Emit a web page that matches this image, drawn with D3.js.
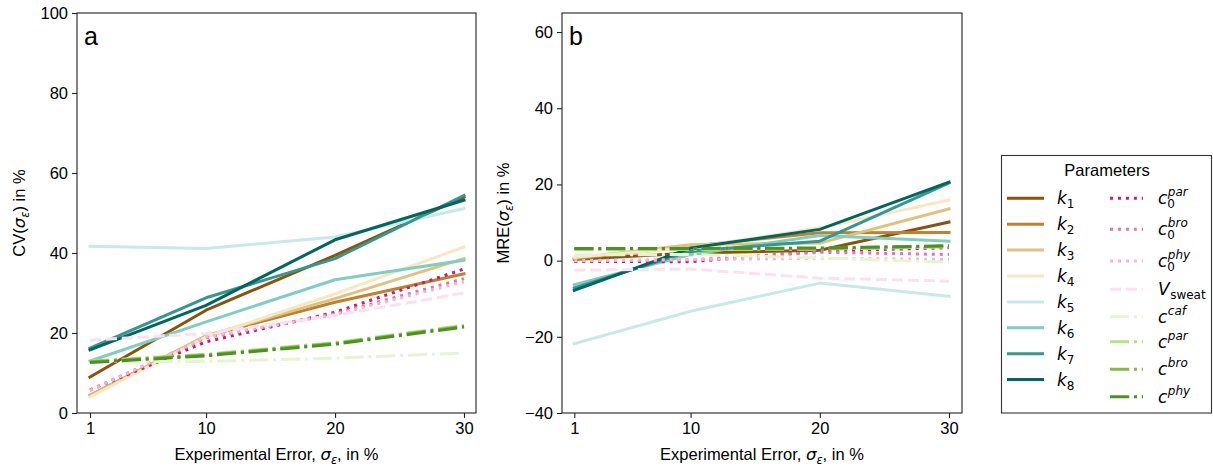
<!DOCTYPE html>
<html>
<head>
<meta charset="utf-8">
<script src="https://cdn.jsdelivr.net/npm/d3@7"></script>
<style>
  html, body { margin: 0; padding: 0; background: #fff; }
  svg { display: block; }
  text { font-family: "Liberation Sans", Arial, sans-serif; fill: #000; }
</style>
</head>
<body>
<svg id="chart" width="1213" height="470"></svg>
<script>
// ---------------- data ----------------
const errorLevels = [1, 10, 20, 30];
const xTicks = [1, 10, 20, 30];
const cvTicks = [0, 20, 40, 60, 80, 100];
const mreTicks = [-40, -20, 0, 20, 40, 60];

const paramKeys = ["k1","k2","k3","k4","k5","k6","k7","k8",
                   "c0par","c0bro","c0phy","Vsweat","ccaf","cpar","cbro","cphy"];

// CV (panel a)
const cvK1 = [9.0, 25.7, 39.4, 54.0];
const cvK2 = [4.4, 19.2, 27.7, 34.8];
const cvK3 = [4.3, 19.3, 28.6, 38.6];
const cvK4 = [4.0, 19.0, 29.8, 41.5];
const cvK5 = [41.7, 41.1, 44.0, 51.1];
const cvK6 = [13.0, 22.8, 33.3, 38.2];
const cvK7 = [16.2, 28.8, 38.6, 54.4];
const cvK8 = [15.8, 26.9, 43.3, 53.2];
const cvC0par = [5.7, 17.8, 25.2, 36.0];
const cvC0bro = [5.8, 18.8, 24.8, 33.6];
const cvC0phy = [5.6, 19.0, 24.6, 32.8];
const cvVsweat = [18.2, 19.9, 24.4, 30.0];
const cvCcaf = [12.9, 12.9, 13.7, 15.0];
const cvCpar = [13.0, 14.7, 17.6, 21.9];
const cvCbro = [12.8, 14.5, 17.4, 21.7];
const cvCphy = [12.6, 14.3, 17.2, 21.5];

// MRE (panel b)
const mreK1 = [0.3, 2.0, 2.7, 10.1];
const mreK2 = [0.4, 3.8, 7.3, 7.4];
const mreK3 = [0.7, 4.2, 4.6, 13.6];
const mreK4 = [0.9, 3.4, 8.6, 15.9];
const mreK5 = [-21.8, -13.3, -5.9, -9.4];
const mreK6 = [-6.3, 1.6, 6.6, 5.1];
const mreK7 = [-7.2, 2.5, 5.1, 20.4];
const mreK8 = [-7.8, 3.3, 8.2, 20.6];
const mreC0par = [-0.2, -0.3, 2.5, 3.4];
const mreC0bro = [-0.1, 0.2, 2.2, 1.6];
const mreC0phy = [0.0, 0.3, 0.6, 0.3];
const mreVsweat = [-2.5, -2.2, -4.6, -5.4];
const mreCcaf = [1.5, 1.6, 0.7, -0.4];
const mreCpar = [2.9, 2.9, 3.0, 3.6];
const mreCbro = [3.1, 3.1, 3.2, 3.8];
const mreCphy = [3.2, 3.2, 3.3, 3.9];

const cvSeries = [cvK1,cvK2,cvK3,cvK4,cvK5,cvK6,cvK7,cvK8,
                  cvC0par,cvC0bro,cvC0phy,cvVsweat,cvCcaf,cvCpar,cvCbro,cvCphy];
const mreSeries = [mreK1,mreK2,mreK3,mreK4,mreK5,mreK6,mreK7,mreK8,
                   mreC0par,mreC0bro,mreC0phy,mreVsweat,mreCcaf,mreCpar,mreCbro,mreCphy];

// ---------------- styles ----------------
const colors = ["#8c510a","#bf812d","#dfc27d","#f6e8c3","#c7eae5","#80cdc1","#35978f","#01665e",
                "#c51b7d","#de77ae","#f1b6da","#fde0ef","#e6f5d0","#b8e186","#7fbc41","#4d9221"];
const LW = 3;
const dashOf = k => k.startsWith("k") ? null
  : k.startsWith("c0") ? `${1*LW},${1.65*LW}`
  : k === "Vsweat" ? `${3.7*LW},${1.6*LW}`
  : `${6.4*LW},${1.6*LW},${1*LW},${1.6*LW}`;

const svg = d3.select("#chart");
const FS = 16.5;

function panel(cfg) {
  const g = svg.append("g");
  const x = d3.scaleLinear().domain([1, 30]).range(cfg.xr);
  const y = d3.scaleLinear().domain(cfg.yd).range([cfg.bottom, cfg.top]);

  const line = d3.line().x((d, i) => x(errorLevels[i])).y(d => y(d));
  g.selectAll("path.series").data(cfg.series).join("path")
    .attr("class", "series")
    .attr("d", d => line(d))
    .attr("fill", "none")
    .attr("stroke", (d, i) => colors[i])
    .attr("stroke-width", LW)
    .attr("stroke-linecap", (d, i) => dashOf(paramKeys[i]) ? "butt" : "square")
    .attr("stroke-linejoin", "round")
    .attr("stroke-dasharray", (d, i) => dashOf(paramKeys[i]));

  // axes
  const xAxis = d3.axisBottom(x).tickValues(xTicks).tickSize(5).tickPadding(4);
  const yAxis = d3.axisLeft(y).tickValues(cfg.yTicks).tickSize(5).tickPadding(4)
     .tickFormat(v => v < 0 ? "\u2212" + Math.abs(v) : String(v));
  const gx = g.append("g").attr("transform", `translate(0,${cfg.bottom})`).call(xAxis);
  const gy = g.append("g").attr("transform", `translate(${cfg.left},0)`).call(yAxis);
  [gx, gy].forEach(a => {
    a.select(".domain").remove();
    a.selectAll("line").attr("stroke", "#222").attr("stroke-width", 1.1);
    a.selectAll("text").style("font-size", FS + "px").style("font-family", "Liberation Sans, Arial, sans-serif").attr("fill", "#000");
  });
  // frame
  g.append("rect").attr("x", cfg.left).attr("y", cfg.top)
    .attr("width", cfg.right - cfg.left).attr("height", cfg.bottom - cfg.top)
    .attr("fill", "none").attr("stroke", "#222").attr("stroke-width", 1.1);

  // panel letter
  g.append("text").attr("x", cfg.left + 7).attr("y", cfg.top + 32)
    .style("font-size", "25px").text(cfg.letter);

  // x label
  const xl = g.append("text").attr("x", (cfg.left + cfg.right) / 2).attr("y", 460)
    .attr("text-anchor", "middle").style("font-size", FS + "px");
  xl.append("tspan").text("Experimental Error, ");
  xl.append("tspan").style("font-family", "DejaVu Sans").style("font-style", "italic").text("\u03c3");
  xl.append("tspan").attr("dy", 4).style("font-size", "11.5px").style("font-family", "DejaVu Sans").style("font-style", "italic").text("\u03b5");
  xl.append("tspan").attr("dy", -4).text(", in %");

  // y label
  const yl = g.append("text")
    .attr("transform", `translate(${cfg.ylx},${(cfg.top + cfg.bottom) / 2}) rotate(-90)`)
    .attr("text-anchor", "middle").style("font-size", FS + "px");
  yl.append("tspan").text(cfg.yname + "(");
  yl.append("tspan").style("font-family", "DejaVu Sans").style("font-style", "italic").text("\u03c3");
  yl.append("tspan").attr("dy", 4).style("font-size", "11.5px").style("font-family", "DejaVu Sans").style("font-style", "italic").text("\u03b5");
  yl.append("tspan").attr("dy", -4).text(") in %");
}

panel({ left: 77, right: 476, top: 13, bottom: 413, xr: [90, 464], yd: [0, 100],
        yTicks: cvTicks, series: cvSeries, letter: "a", yname: "CV", ylx: 25 });
panel({ left: 562, right: 962, top: 13, bottom: 413, xr: [574.3, 949], yd: [-40, 65],
        yTicks: mreTicks, series: mreSeries, letter: "b", yname: "MRE", ylx: 509 });

// ---------------- legend ----------------
const labelSpec = {
  k1: {b: "k", sub: "1"}, k2: {b: "k", sub: "2"}, k3: {b: "k", sub: "3"}, k4: {b: "k", sub: "4"},
  k5: {b: "k", sub: "5"}, k6: {b: "k", sub: "6"}, k7: {b: "k", sub: "7"}, k8: {b: "k", sub: "8"},
  c0par: {b: "c", sub: "0", sup: "par"}, c0bro: {b: "c", sub: "0", sup: "bro"}, c0phy: {b: "c", sub: "0", sup: "phy"},
  Vsweat: {b: "V", sub: "sweat", subUp: true},
  ccaf: {b: "c", sup: "caf"}, cpar: {b: "c", sup: "par"}, cbro: {b: "c", sup: "bro"}, cphy: {b: "c", sup: "phy"}
};
const leg = svg.append("g");
leg.append("rect").attr("x", 1001.5).attr("y", 155.5).attr("width", 210).attr("height", 257.5)
  .attr("fill", "#fff").attr("stroke", "#333").attr("stroke-width", 1.1);
leg.append("text").attr("x", 1107).attr("y", 176).attr("text-anchor", "middle")
  .style("font-size", FS + "px").text("Parameters");

const col1Y = d3.range(8).map(i => 198.3 + i * 25.9);
const col2Y = [198.3, 229.3, 261, 289.3, 316.7, 341.7, 369.3, 396.7];
paramKeys.forEach((k, i) => {
  const col = i < 8 ? 0 : 1;
  const yy = col === 0 ? col1Y[i] : col2Y[i - 8];
  const hx0 = col === 0 ? 1007 : 1110, hx1 = col === 0 ? 1044 : 1143;
  leg.append("line").attr("x1", hx0).attr("x2", hx1).attr("y1", yy).attr("y2", yy)
    .attr("stroke", colors[i]).attr("stroke-width", LW)
    .attr("stroke-dasharray", dashOf(k));
  const tx = col === 0 ? 1057 : 1158;
  const s = labelSpec[k];
  const base = leg.append("text").attr("x", tx).attr("y", yy + 6)
    .style("font-family", "DejaVu Sans").style("font-style", "italic").style("font-size", "17px").text(s.b);
  const w = base.node().getComputedTextLength();
  if (s.sup) {
    leg.append("text").attr("x", tx + w + 0.5).attr("y", yy - 2)
      .style("font-family", "DejaVu Sans").style("font-style", "italic").style("font-size", "12px").text(s.sup);
  }
  if (s.sub) {
    leg.append("text").attr("x", tx + w + (s.subUp ? 0.5 : 0)).attr("y", yy + 10)
      .style("font-family", "DejaVu Sans").style("font-size", "12px").text(s.sub);
  }
});
</script>
</body>
</html>
